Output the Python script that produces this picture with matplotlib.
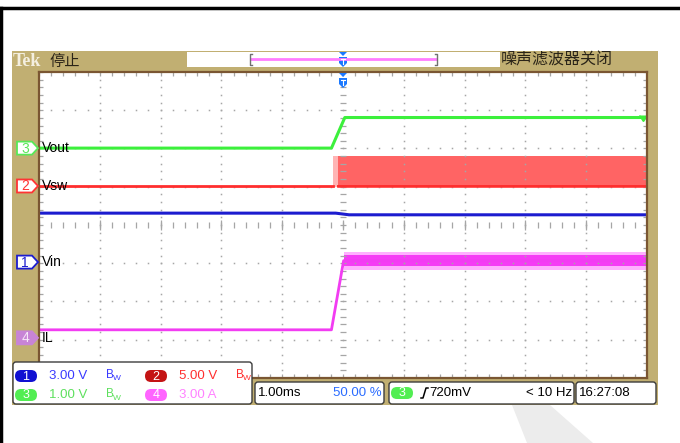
import numpy as np
import matplotlib.pyplot as plt
from matplotlib.patches import Rectangle, FancyBboxPatch, Polygon

plt.rcParams['font.family'] = ['Liberation Sans Narrow', 'Liberation Sans', 'DejaVu Sans']
cjk = ['Noto Sans CJK SC', 'DejaVu Sans']

# scope settings: volts (or amps) per division and ground marker offset in divisions
ch_scale = {'Vin': 3.0, 'Vsw': 5.0, 'Vout': 1.0, 'IL': 3.0}
ch_offset = {'Vin': -0.97, 'Vsw': 1.02, 'Vout': 2.01, 'IL': -2.95}
ch_colors = {'Vin': '#1c1ccf', 'Vsw': '#ff2e2e', 'Vout': '#3cf03c', 'IL': '#f23cf2'}

# traces, time in ms (1.00ms/div, trigger at centre)
vout_t = [-5.0, -0.19, 0.03, 5.0]
vout_v = [0.0, 0.0, 0.80, 0.80]

vsw_t = [-5.0, -0.17]
vsw_v = [0.0, 0.0]
vsw_pre_t = [-0.17, -0.08]
vsw_band_t = [-0.08, 5.0]
vsw_hi = [3.95, 3.95]
vsw_lo = [-0.12, -0.12]

vin_t = [-5.0, -0.12, 0.10, 5.0]
vin_v = [3.84, 3.84, 3.71, 3.71]

il_t = [-5.0, -0.19, 0.01, 5.0]
il_v = [0.63, 0.63, 6.05, 6.05]
il_band_t = [0.01, 5.0]
il_ripple = 0.42
il_fringe = 0.70

trig_level = 0.72  # V on ch3


def div(name, vals):
    return [ch_offset[name] + v / ch_scale[name] for v in vals]


fig = plt.figure(figsize=(6.8, 4.43), dpi=100)
fig.patch.set_facecolor('white')

# background layer in pixel coordinates
bg = fig.add_axes([0, 0, 1, 1])
bg.set_xlim(0, 680)
bg.set_ylim(443, 0)
bg.axis('off')
bg.plot([0, 680], [8, 8], color='black', lw=2.5)
bg.plot([1, 1], [8, 443], color='black', lw=2.5)
bg.add_patch(Polygon([(512, 405), (550, 405), (593, 443), (527, 443)], color='#ececec', lw=0))
bg.add_patch(Rectangle((12, 51), 646, 354, facecolor='#c1af72', edgecolor='none'))
bg.add_patch(Rectangle((187, 52), 313, 15, facecolor='white', edgecolor='none'))
bg.plot([251, 436], [59, 59], color='#ff7cff', lw=2)
for bx, d in [(250, 1), (437, -1)]:
    bg.plot([bx + 2 * d, bx, bx, bx + 2 * d], [54, 54, 65, 65], color='#707070', lw=1)
bg.text(13, 61, 'Tek', family='Liberation Serif', fontsize=13, fontweight='bold',
        color='#f4efe0', va='center', ha='left')
bg.text(49, 61, '停止', family=cjk, fontsize=11, color='#2a2418', va='center', ha='left')
bg.text(501, 60, '噪声滤波器关闭', family=cjk, fontsize=11.5, color='#2a2418', va='center', ha='left')


def trig_marker(a, x, y):
    a.add_patch(Polygon([(x - 4, y), (x + 4, y), (x, y + 4)], color='#1a78ff', lw=0))
    a.add_patch(Polygon([(x - 4, y + 5), (x + 4, y + 5), (x + 4, y + 11), (x, y + 15), (x - 4, y + 11)],
                        color='#1a78ff', lw=0))
    a.plot([x - 2, x + 2], [y + 7, y + 7], color='white', lw=0.8)
    a.plot([x, x], [y + 7, y + 12], color='white', lw=0.8)


trig_marker(bg, 343, 52)

# graticule
ax = fig.add_axes([39 / 680, 1 - 378 / 443, 608 / 680, 306 / 443])
ax.set_xlim(-5, 5)
ax.set_ylim(-4, 4)
ax.set_facecolor('white')
ax.set_xticks([])
ax.set_yticks([])
for s in ax.spines.values():
    s.set_color('#7a5632')
    s.set_linewidth(1.6)

dot = '#a6a6a6'
xs = np.arange(-5, 5.001, 0.2)
ys = np.arange(-4, 4.001, 0.2)
for gy in [-3, -2, -1, 1, 2, 3]:
    ax.plot(xs, np.full_like(xs, gy), ls='none', marker='s', ms=1.1, color=dot, mew=0)
for gx in [-4, -3, -2, -1, 1, 2, 3, 4]:
    ax.plot(np.full_like(ys, gx), ys, ls='none', marker='s', ms=1.1, color=dot, mew=0)
ax.plot(xs, np.zeros_like(xs), ls='none', marker='|', ms=4, color=dot, mew=0.9)
ax.plot(np.arange(-5, 6), np.zeros(11), ls='none', marker='|', ms=7, color=dot, mew=0.9)
ax.plot(np.zeros_like(ys), ys, ls='none', marker='_', ms=4, color=dot, mew=0.9)
for ey in [4, -4]:
    ax.plot(xs, np.full_like(xs, ey), ls='none', marker='|', ms=6, color=dot, mew=0.9)
for ex in [5, -5]:
    ax.plot(np.full_like(ys, ex), ys, ls='none', marker='_', ms=6, color=dot, mew=0.9)

# waveforms
ax.plot(vin_t, div('Vin', vin_v), color=ch_colors['Vin'], lw=2.2, solid_joinstyle='round')
ax.fill_between(vsw_pre_t, div('Vsw', vsw_lo[:1] * 2), div('Vsw', vsw_hi[:1] * 2),
                color='#ffb4b4', lw=0)
ax.fill_between(vsw_band_t, div('Vsw', vsw_lo), div('Vsw', vsw_hi), color='#ff6464', lw=0)
ax.plot(vsw_band_t, div('Vsw', vsw_lo), color='#ff3a3a', lw=1.2)
ax.plot(vsw_t, div('Vsw', vsw_v), color=ch_colors['Vsw'], lw=2.0)
ax.plot(vsw_band_t, div('Vsw', [0.0, 0.0]), color=ch_colors['Vsw'], lw=1.4)
ax.plot(vout_t, div('Vout', vout_v), color=ch_colors['Vout'], lw=2.2)
ax.fill_between(il_band_t, div('IL', [v - il_fringe for v in il_v[2:]]),
                div('IL', [v + il_fringe for v in il_v[2:]]), color='#ffb0ff', lw=0)
ax.fill_between(il_band_t, div('IL', [v - il_ripple for v in il_v[2:]]),
                div('IL', [v + il_ripple for v in il_v[2:]]), color='#f53cf5', lw=0)
ax.plot(il_t, div('IL', il_v), color=ch_colors['IL'], lw=2.0)
ax.plot([4.93], div('Vout', [trig_level]), marker=7, ms=6, color=ch_colors['Vout'])

# foreground layer: markers and readouts
fg = fig.add_axes([0, 0, 1, 1])
fg.set_xlim(0, 680)
fg.set_ylim(443, 0)
fg.axis('off')
fg.patch.set_alpha(0)

trig_marker(fg, 343, 73)

# ground markers (pixel y of each channel reference)
markers = [('3', 'Vout', '#58e858', 'white', '#58e858'),
           ('2', 'Vsw', '#ff3434', 'white', '#ff3434'),
           ('1', 'Vin', '#1c1ccf', 'white', '#1c1ccf'),
           ('4', 'IL', '#c884d6', '#c884d6', '#f6e6f8')]
for num, name, edge, face, txt in markers:
    py = 225 - ch_offset[name] * 38.25
    fg.add_patch(Polygon([(17, py - 6.5), (32, py - 6.5), (38, py), (32, py + 6.5), (17, py + 6.5)],
                         facecolor=face, edgecolor=edge, lw=1.3))
    fg.text(25, py + 0.5, num, fontsize=10, color=txt, ha='center', va='center')
    fg.text(42, py, name, fontsize=10, color='black', ha='left', va='center')

box_edge = '#3c3c3c'


def box(x0, y0, x1, y1):
    fg.add_patch(FancyBboxPatch((x0, y0), x1 - x0, y1 - y0, boxstyle='round,pad=0,rounding_size=3',
                                facecolor='white', edgecolor=box_edge, lw=1))


def pill(x, y, num, color, tcolor='white'):
    fg.add_patch(FancyBboxPatch((x, y - 6), 22, 12, boxstyle='round,pad=0,rounding_size=6',
                                facecolor=color, edgecolor='none'))
    fg.text(x + 11, y + 0.5, num, fontsize=9, color=tcolor, ha='center', va='center')


def bw(x, y, color):
    fg.text(x, y - 1, 'B', fontsize=8.5, color=color, ha='left', va='center')
    fg.text(x + 7, y + 3, 'W', fontsize=6, color=color, ha='left', va='center')


box(13, 362, 252, 404)
rows = [(376, [('1', '3.00 V', '#1010d2', '#3a3aff'), ('2', '5.00 V', '#c41414', '#ff2e2e')]),
        (395, [('3', '1.00 V', '#52ee52', '#5ee05e'), ('4', '3.00 A', '#ff64ff', '#ff82ff')])]
for ry, items in rows:
    for k, (num, val, pc, tc) in enumerate(items):
        x0 = 15 + k * 130
        pill(x0, ry, num, pc)
        fg.text(x0 + 34, ry, val, fontsize=9.5, color=tc, ha='left', va='center')
    bw(106, ry, items[0][3])
bw(236, 376, '#ff2e2e')

box(255, 382, 384, 404)
fg.text(258, 393, '1.00ms', fontsize=9.5, color='black', ha='left', va='center')
fg.text(382, 393, '50.00 %', fontsize=9.5, color='#2a6cff', ha='right', va='center')

box(389, 382, 574, 404)
pill(391, 393, '3', '#52ee52')
fg.plot([421, 423, 426, 428], [398, 398, 388, 388], color='black', lw=1.1)
fg.text(429, 393, '720mV', fontsize=9.5, color='black', ha='left', va='center')
fg.text(572, 393, '< 10 Hz', fontsize=9.5, color='black', ha='right', va='center')

box(576, 382, 656, 404)
fg.text(579, 393, '16:27:08', fontsize=9.5, color='black', ha='left', va='center')

fig.savefig('out.png', dpi=100)
